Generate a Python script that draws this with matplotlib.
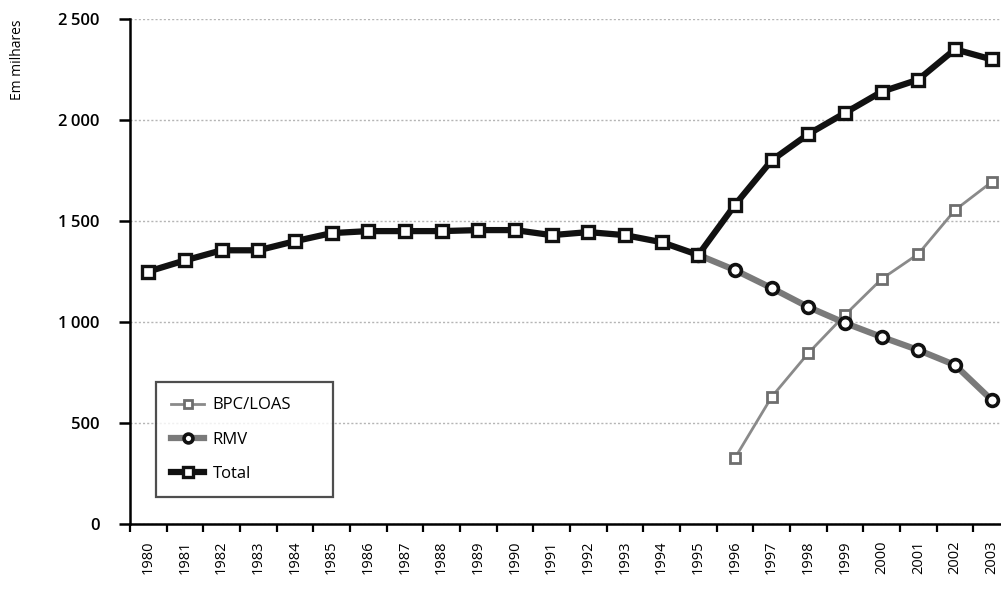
import matplotlib
matplotlib.use("Agg")
import matplotlib.pyplot as plt
from matplotlib.ticker import FixedLocator, FuncFormatter

plt.rcParams['font.family'] = ['Open Sans', 'DejaVu Sans']

years = list(range(1980, 2004))
total = [1250, 1305, 1355, 1355, 1400, 1440, 1450, 1450, 1450, 1455, 1455, 1430,
         1445, 1430, 1395, 1332, 1580, 1800, 1930, 2035, 2140, 2200, 2350, 2300]
rmv_years = list(range(1995, 2004))
rmv = [1332, 1257, 1168, 1074, 995, 926, 861, 787, 614]
bpc_years = list(range(1996, 2004))
bpc = [327, 629, 846, 1035, 1213, 1337, 1554, 1693]

fig = plt.figure(figsize=(10.01, 5.94), dpi=100)
ax = fig.add_axes([130 / 1001, 70 / 594, 880 / 1001, 505 / 594])

idx = {y: i for i, y in enumerate(years)}
xb = [idx[y] for y in bpc_years]
xr = [idx[y] for y in rmv_years]
xt = [idx[y] for y in years]

ax.plot(xb, bpc, color='#8a8a8a', lw=2, marker='s', ms=7.5, mfc='white',
        mec='#6e6e6e', mew=2, label='BPC/LOAS', zorder=3)
ax.plot(xr, rmv, color='#7a7a7a', lw=4.5, marker='o', ms=8.5, mfc='white',
        mec='#111111', mew=2.6, label='RMV', zorder=4)
ax.plot(xt, total, color='#111111', lw=4.5, marker='s', ms=9, mfc='white',
        mec='#111111', mew=2.4, label='Total', zorder=5)

ax.set_xlim(-0.5, len(years) - 0.5)
ax.set_ylim(0, 2500)

ax.set_yticks([0, 500, 1000, 1500, 2000, 2500])
ax.yaxis.set_major_formatter(FuncFormatter(
    lambda v, p: f"{int(v):,}".replace(",", "\u2009") if v >= 1000 else f"{int(v)}"))
ax.tick_params(axis='y', length=8, width=1.8, direction='out', pad=14,
               labelsize=12)
for t in ax.get_yticklabels():
    t.set_fontweight('semibold')

ax.set_xticks(xt)
ax.set_xticklabels([str(y) for y in years], rotation=90, fontsize=10.5)
for t in ax.get_xticklabels():
    t.set_fontweight('medium')
ax.tick_params(axis='x', which='major', length=0, pad=12)
ax.xaxis.set_minor_locator(FixedLocator([i - 0.5 for i in range(len(years) + 1)]))
ax.tick_params(axis='x', which='minor', length=6, width=1.6, direction='out')

ax.grid(axis='y', linestyle=(0, (1.5, 1.5)), color='#b5b5b5', lw=1)
ax.set_axisbelow(True)

for s in ['top', 'right']:
    ax.spines[s].set_visible(False)
ax.spines['left'].set_linewidth(1.8)
ax.spines['bottom'].set_linewidth(1.8)

ax.text(-0.128, 1.0, 'Em milhares', transform=ax.transAxes, rotation=90,
        ha='center', va='top', fontsize=10)

leg = ax.legend(loc='lower left', bbox_to_anchor=(26 / 880, 27 / 505,
                177 / 880, 144 / 505), mode='expand', frameon=True,
                fancybox=False, edgecolor='#222222', fontsize=12,
                handlelength=2.0, labelspacing=1.1, borderpad=0.9,
                borderaxespad=0, markerscale=0.75, handletextpad=0.5)
leg.get_frame().set_linewidth(1.6)
for t in leg.get_texts():
    t.set_fontweight('medium')

fig.savefig('out.png', dpi=100, facecolor='white')
